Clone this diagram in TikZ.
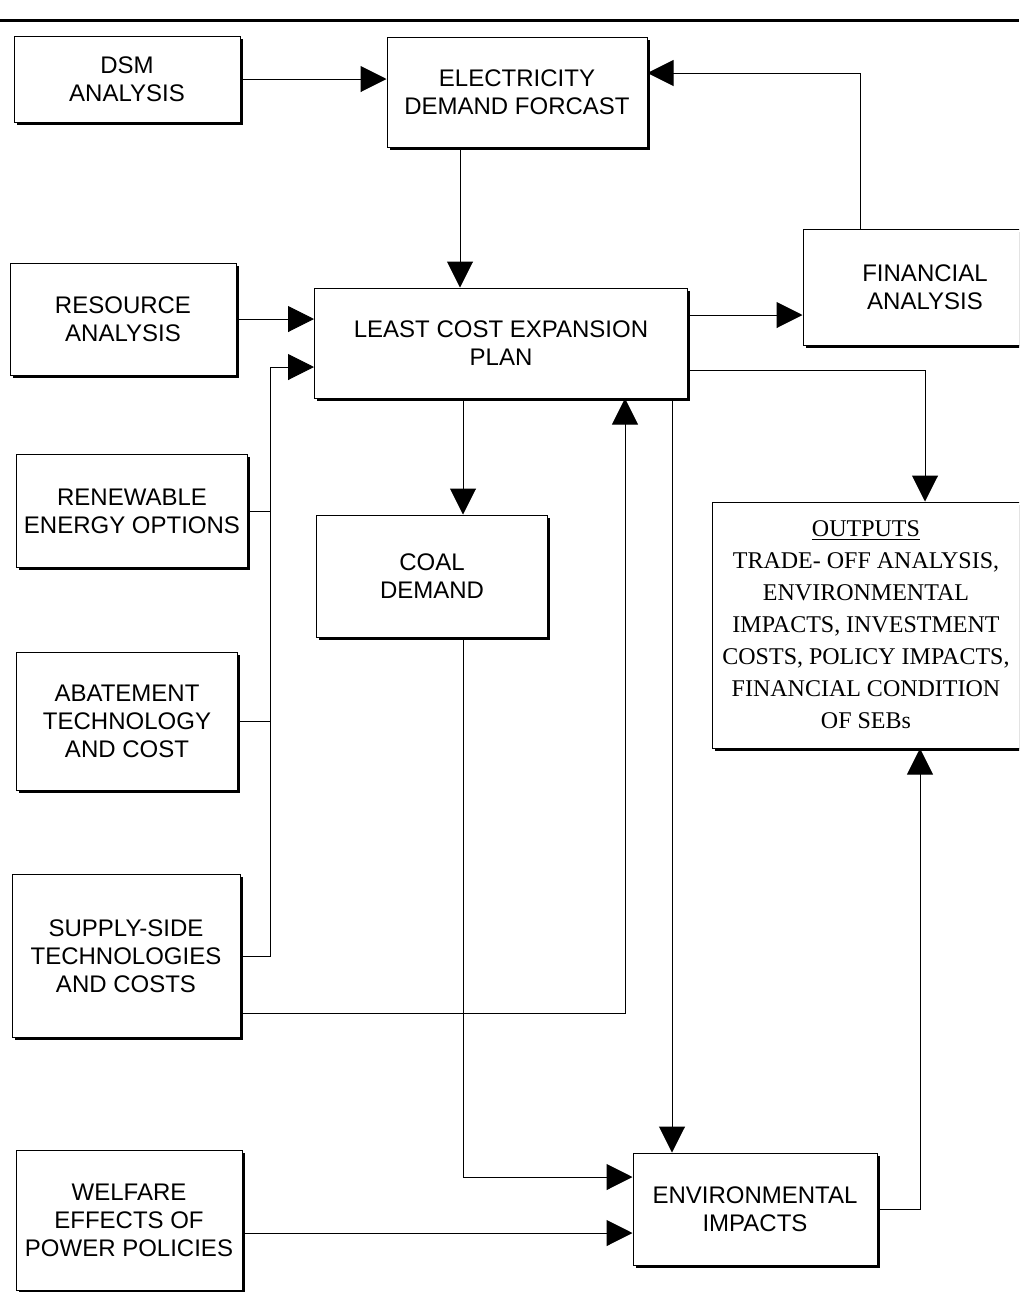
\documentclass[tikz,border=0pt]{standalone}
\usepackage{fontspec}
\setmainfont{Liberation Sans}
\newfontfamily\outfont{Liberation Serif}
\usetikzlibrary{arrows.meta,shadows}
\begin{document}
\begin{tikzpicture}[x=0.5pt, y=-0.5pt, line join=miter, >={Triangle[length=13pt,width=13pt]},
  box/.style={draw, line width=0.5pt, fill=white, align=center, inner sep=2pt,
    font=\fontsize{12}{14}\selectfont,
    drop shadow={shadow xshift=1.3pt, shadow yshift=-1.3pt, opacity=1, fill=black}},
  link/.style={line width=0.5pt}]
\clip (0,0) rectangle (1019,1292);
\draw[line width=1.5pt] (0,20) -- (1019,20);
\node[box, minimum width=113pt, minimum height=43pt] (dsm) at (127,79) {DSM\\ANALYSIS};
\node[box, minimum width=130pt, minimum height=55pt] (elec) at (517,92) {ELECTRICITY\\DEMAND FORCAST};
\node[box, minimum width=113pt, minimum height=56pt] (res) at (123,319) {RESOURCE\\ANALYSIS};
\node[box, minimum width=186.5pt, minimum height=55pt] (lcep) at (501,343) {LEAST COST EXPANSION\\PLAN};
\node[box, minimum width=122pt, minimum height=58pt] (fin) at (925,287) {FINANCIAL\\ANALYSIS};
\node[box, minimum width=115.5pt, minimum height=61pt] (coal) at (432,576) {COAL\\DEMAND};
\node[box, minimum width=115.5pt, minimum height=56.5pt] (ren) at (132,511) {RENEWABLE\\ENERGY OPTIONS};
\node[box, minimum width=110.5pt, minimum height=69pt] (abat) at (127,721) {ABATEMENT\\TECHNOLOGY\\AND COST};
\node[box, minimum width=114pt, minimum height=81.5pt] (sup) at (126,956) {SUPPLY-SIDE\\TECHNOLOGIES\\AND COSTS};
\node[box, minimum width=113pt, minimum height=70pt] (wel) at (129,1220) {WELFARE\\EFFECTS OF\\POWER POLICIES};
\node[box, minimum width=122pt, minimum height=56pt] (env) at (755,1209) {ENVIRONMENTAL\\IMPACTS};
\node[box, minimum width=154pt, minimum height=123pt, font=\outfont\fontsize{12}{16}\selectfont] (out) at (866,625)
  {\underline{OUTPUTS}\\TRADE- OFF ANALYSIS,\\ENVIRONMENTAL\\IMPACTS, INVESTMENT\\COSTS, POLICY IMPACTS,\\FINANCIAL CONDITION\\OF SEBs};
\draw[link,->] (dsm.east) -- (dsm.east -| elec.west);
\draw[link,->] ([xshift=-32.5pt]fin.north) |- ([yshift=9.5pt]elec.east);
\draw[link,->] ([xshift=-28.5pt]elec.south) -- ([xshift=-28.5pt]elec.south |- lcep.north);
\draw[link,->] (res.east) -- (res.east -| lcep.west);
\draw[link,->] (sup.east) -- ++(15pt,0) coordinate (bus) |- ([yshift=-12pt]lcep.west);
\draw[link] (ren.east) -- (ren.east -| bus);
\draw[link] (abat.east) -- (abat.east -| bus);
\draw[link,->] ([yshift=-28.5pt]sup.east) -| ([xshift=62pt]lcep.south);
\draw[link,->] ([yshift=14pt]lcep.east) -- ([yshift=14pt]lcep.east -| fin.west);
\draw[link,->] ([yshift=-13.5pt]lcep.east) -| ([xshift=29.5pt]out.north);
\draw[link,->] ([xshift=15.5pt]coal.north |- lcep.south) -- ([xshift=15.5pt]coal.north);
\draw[link,->] ([xshift=-41.5pt]env.north |- lcep.south) -- ([xshift=-41.5pt]env.north);
\draw[link,->] ([xshift=15.5pt]coal.south) |- ([yshift=16pt]env.west);
\draw[link,->] ([yshift=-12pt]env.west -| wel.east) -- ([yshift=-12pt]env.west);
\draw[link,->] (env.east) -| ([xshift=27pt]out.south);
\end{tikzpicture}
\end{document}
